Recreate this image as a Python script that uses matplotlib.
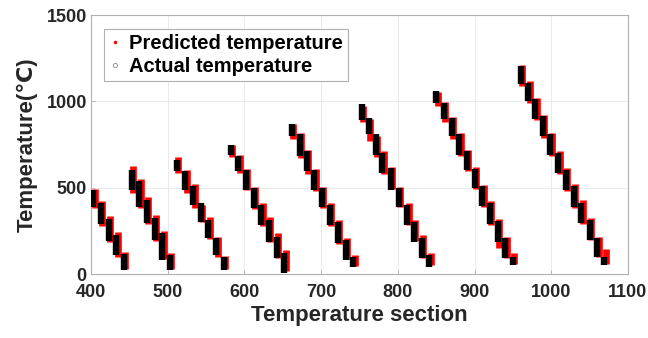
import matplotlib.pyplot as plt
from matplotlib.lines import Line2D
from matplotlib.transforms import offset_copy

# section position of every cluster (8 heating runs, 5..12 clusters each)
section = [403, 413, 423, 433, 443,
           453, 463, 473, 483, 493, 503,
           512, 523, 533, 543, 553, 563, 573,
           582, 592, 602, 612, 622, 632, 642, 652,
           662, 672, 681, 691, 701, 711, 722, 732, 742,
           753, 762, 771, 780, 791, 801, 812, 821, 831, 841,
           850, 860, 870, 880, 890, 900, 910, 920, 930, 940, 950,
           960, 970, 979, 989, 999, 1009, 1019, 1029, 1039, 1050, 1060, 1069]

# actual temperature range inside each cluster
actual_hi = [488, 411, 318, 227, 116,
             604, 536, 430, 325, 238, 110,
             662, 594, 507, 411, 314, 207, 100,
             749, 681, 604, 498, 401, 314, 217, 120,
             866, 808, 711, 604, 498, 401, 304, 198, 100,
             985, 906, 808, 701, 614, 498, 401, 304, 207, 110,
             1059, 992, 905, 810, 711, 610, 507, 411, 308, 207, 100,
             1205, 1108, 1011, 914, 808, 701, 604, 507, 411, 314, 207, 100]
actual_lo = [391, 290, 194, 110, 23,
             488, 391, 296, 198, 81, 23,
             594, 488, 401, 304, 207, 110, 23,
             691, 594, 488, 382, 285, 188, 91, 4,
             798, 682, 594, 488, 391, 285, 178, 81, 42,
             890, 808, 691, 585, 488, 391, 285, 188, 91, 42,
             992, 895, 798, 690, 600, 498, 395, 290, 185, 95, 55,
             1098, 1001, 895, 798, 691, 585, 488, 391, 294, 198, 101, 52]

# predicted temperature range inside each cluster
pred_hi = [495, 425, 335, 245, 130,
           625, 550, 445, 340, 250, 120,
           675, 600, 520, 400, 330, 215, 105,
           745, 690, 610, 505, 410, 330, 235, 140,
           870, 815, 720, 610, 505, 410, 315, 210, 110,
           975, 895, 800, 710, 620, 505, 410, 315, 225, 120,
           1055, 995, 910, 815, 720, 620, 515, 420, 320, 215, 120,
           1210, 1115, 1020, 920, 815, 710, 615, 520, 430, 325, 215, 145]
pred_lo = [385, 280, 185, 100, 30,
           470, 380, 290, 190, 85, 30,
           585, 470, 380, 300, 200, 100, 30,
           680, 585, 485, 375, 280, 185, 95, 20,
           780, 670, 580, 480, 380, 280, 175, 85, 45,
           880, 770, 680, 580, 490, 390, 285, 190, 95, 50,
           975, 880, 780, 685, 595, 490, 390, 285, 150, 90, 60,
           1090, 990, 890, 790, 685, 580, 480, 385, 290, 195, 100, 60]

x_ticks = [400, 500, 600, 700, 800, 900, 1000, 1100]
y_ticks = [0, 500, 1000, 1500]

plt.rcParams['font.family'] = ['Liberation Sans', 'DejaVu Sans']
plt.rcParams['font.weight'] = 'bold'
text_col = '#262626'

fig = plt.figure(figsize=(6.48, 3.38), dpi=100)
ax = fig.add_axes([0.1404, 0.1893, 0.8287, 0.7663])

# red predicted clusters, nudged right so they peek out behind the black ones
red_tr = offset_copy(ax.transData, fig=fig, x=1.5, y=0, units='dots')
ax.vlines(section, pred_lo, pred_hi, colors='#ff0000', linewidth=4.8,
          transform=red_tr, zorder=2)
ax.vlines(section, actual_lo, actual_hi, colors='#000000', linewidth=4.6,
          zorder=3)

ax.set_xlim(400, 1100)
ax.set_ylim(0, 1500)
ax.set_xticks(x_ticks)
ax.set_yticks(y_ticks)
ax.tick_params(direction='in', length=3, width=0.6, colors='#b0b0b0',
               labelcolor=text_col, labelsize=13)
ax.tick_params(axis='x', pad=7)
ax.tick_params(axis='y', pad=3)
for lab in ax.get_xticklabels() + ax.get_yticklabels():
    lab.set_fontweight('bold')
for sp in ax.spines.values():
    sp.set_color('#b0b0b0')
    sp.set_linewidth(0.8)
ax.grid(True, color='#e6e6e6', linewidth=0.6)
ax.set_axisbelow(True)

ax.set_xlabel('Temperature section', fontsize=16, fontweight='bold',
              color=text_col, labelpad=3)
ax.set_ylabel('Temperature(℃)', fontsize=16, fontweight='bold',
              color=text_col, labelpad=6)

handles = [Line2D([], [], linestyle='none', marker='.', markersize=3,
                  color='#ff0000'),
           Line2D([], [], linestyle='none', marker='o', markersize=3,
                  markerfacecolor='none', markeredgecolor='#888888',
                  markeredgewidth=0.6)]
leg = ax.legend(handles, ['Predicted temperature', 'Actual temperature'],
                loc='upper left', bbox_to_anchor=(0.024, 0.946),
                borderaxespad=0, fancybox=False, framealpha=1,
                edgecolor='#b0b0b0', handlelength=0.6, handletextpad=0.4,
                borderpad=0.25, labelspacing=0.2,
                prop={'size': 14.5, 'weight': 'bold'})
leg.get_frame().set_linewidth(0.8)
for t in leg.get_texts():
    t.set_color('#000000')

fig.savefig('out.png', dpi=100)
